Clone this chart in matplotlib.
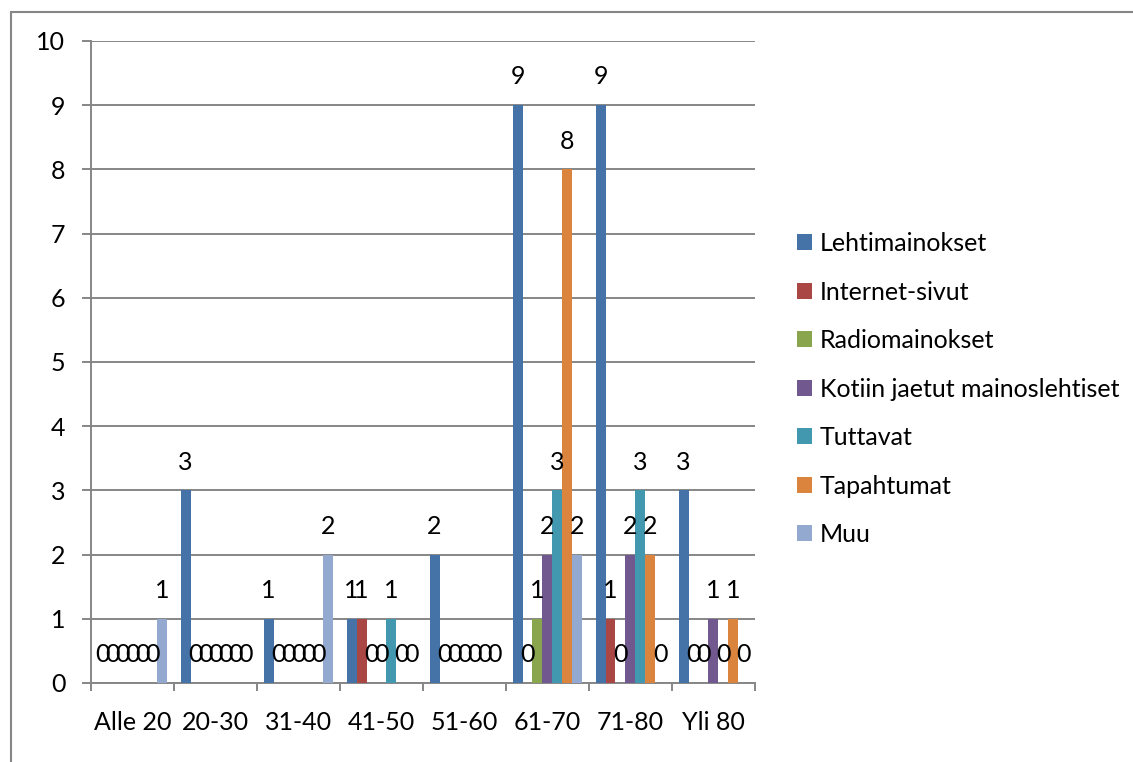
import numpy as np
import matplotlib
matplotlib.use('Agg')
import matplotlib.pyplot as plt
from matplotlib.patches import Rectangle

plt.rcParams['font.family'] = ['Lato', 'DejaVu Sans']

categories = ['Alle 20', '20-30', '31-40', '41-50', '51-60', '61-70', '71-80', 'Yli 80']
series_names = ['Lehtimainokset', 'Internet-sivut', 'Radiomainokset',
                'Kotiin jaetut mainoslehtiset', 'Tuttavat', 'Tapahtumat', 'Muu']
lehtimainokset = [0, 3, 1, 1, 2, 9, 9, 3]
internet_sivut = [0, 0, 0, 1, 0, 0, 1, 0]
radiomainokset = [0, 0, 0, 0, 0, 1, 0, 0]
kotiin_jaetut = [0, 0, 0, 0, 0, 2, 2, 1]
tuttavat = [0, 0, 0, 1, 0, 3, 3, 0]
tapahtumat = [0, 0, 0, 0, 0, 8, 2, 1]
muu = [1, 0, 2, 0, 0, 2, 0, 0]
colors = ['#4572A7', '#AA4643', '#89A54E', '#71588F', '#4198AF', '#DB843D', '#93A9CF']

values = [lehtimainokset, internet_sivut, radiomainokset, kotiin_jaetut,
          tuttavat, tapahtumat, muu]

fig = plt.figure(figsize=(11.33, 7.62), dpi=100)
ax = fig.add_axes([0.0803, 0.1037, 0.586, 0.8425])

gray = '#868686'
fs = 18
x = np.arange(len(categories))
w = 0.12
for i, (name, vals) in enumerate(zip(series_names, values)):
    pos = x - 3 * w + i * w
    ax.bar(pos, vals, width=w, color=colors[i], label=name, zorder=3)
    for p, v in zip(pos, vals):
        ax.text(p, v + 0.44, str(v), ha='center', va='center', fontsize=fs, zorder=4)

ax.set_xlim(-0.5, len(categories) - 0.5)
ax.set_ylim(0, 10)
ax.set_yticks(range(0, 11))
ax.set_xticks(x)
ax.set_xticklabels(categories)
ax.set_xticks(np.arange(-0.5, len(categories)), minor=True)
ax.grid(axis='y', color=gray, lw=1.4, zorder=0)
for s in ['top', 'right']:
    ax.spines[s].set_visible(False)
for s in ['left', 'bottom']:
    ax.spines[s].set_color(gray)
    ax.spines[s].set_linewidth(1.4)
ax.tick_params(axis='y', length=6.5, width=1.4, color=gray, pad=12, labelsize=fs)
ax.tick_params(axis='x', which='major', length=0, pad=20, labelsize=fs)
ax.tick_params(axis='x', which='minor', length=6, width=1.4, color=gray)

fig.legend(loc='center left', bbox_to_anchor=(0.7034, 0.4895), frameon=False,
           fontsize=fs, handlelength=0.6, handleheight=0.6, handletextpad=0.32,
           labelspacing=1.02, borderpad=0, borderaxespad=0)

fig.patches.append(Rectangle((11 / 1133, -0.1), 1.2, 1 - 12 / 762 + 0.1,
                             transform=fig.transFigure, fill=False,
                             edgecolor=gray, lw=1.5))

fig.savefig('out.png', dpi=100)
